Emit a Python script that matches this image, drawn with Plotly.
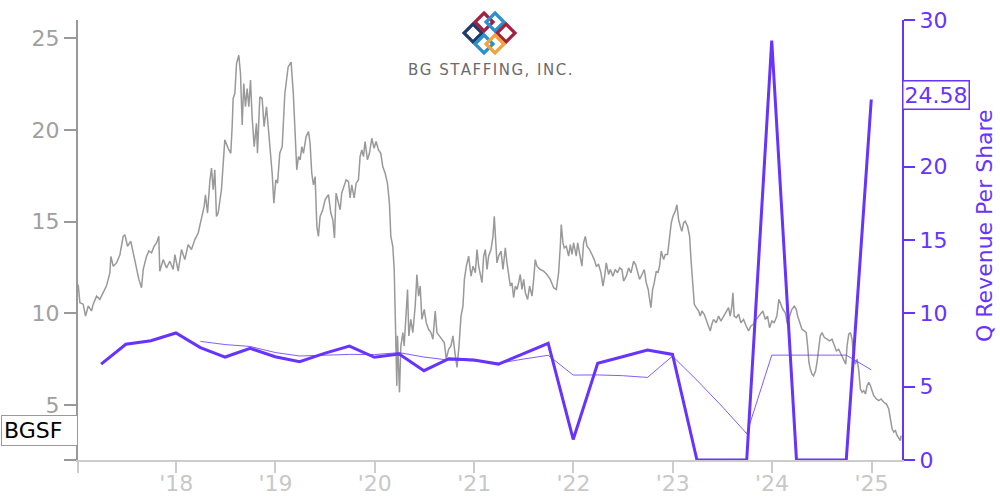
import plotly.graph_objects as go
import pandas as pd

# ---------------- data ----------------
ticker = "BGSF"
company = "BG STAFFING, INC."
right_title = "Q Revenue Per Share"

# daily close (decimal year, price)
price_points = [
    (2017.013, 11.57), (2017.030, 10.58), (2017.063, 10.5), (2017.087, 9.85), (2017.114, 10.4),
    (2017.147, 10.13), (2017.164, 10.5), (2017.198, 10.94), (2017.231, 10.76), (2017.265, 11.1),
    (2017.298, 11.5), (2017.332, 12.2), (2017.342, 13.1), (2017.366, 12.57), (2017.399, 12.75),
    (2017.433, 13.2), (2017.466, 14.2), (2017.483, 14.29), (2017.510, 13.66), (2017.543, 13.93),
    (2017.567, 13.3), (2017.600, 12.57), (2017.624, 11.85), (2017.651, 11.4), (2017.668, 12.4),
    (2017.701, 13.1), (2017.725, 13.4), (2017.752, 13.3), (2017.778, 13.66), (2017.802, 13.84),
    (2017.825, 14.2), (2017.835, 12.3), (2017.869, 12.93), (2017.903, 12.48), (2017.936, 12.84),
    (2017.970, 12.39), (2017.987, 13.2), (2018.020, 12.3), (2018.054, 13.48), (2018.087, 12.93),
    (2018.121, 13.75), (2018.154, 13.48), (2018.188, 14.02), (2018.222, 14.38), (2018.255, 15.29),
    (2018.282, 15.83), (2018.295, 16.47), (2018.316, 15.47), (2018.339, 17.19), (2018.356, 17.92),
    (2018.373, 16.74), (2018.389, 17.83), (2018.406, 15.29), (2018.423, 15.47), (2018.456, 16.74),
    (2018.490, 19.46), (2018.524, 19.0), (2018.550, 18.73), (2018.564, 20.18), (2018.574, 21.72),
    (2018.591, 21.99), (2018.608, 23.62), (2018.631, 24.08), (2018.648, 23.08), (2018.665, 20.27),
    (2018.681, 22.54), (2018.698, 21.27), (2018.715, 22.26), (2018.732, 21.27), (2018.749, 22.72),
    (2018.765, 20.72), (2018.786, 19.09), (2018.809, 20.36), (2018.819, 18.73), (2018.843, 21.81),
    (2018.866, 21.72), (2018.886, 20.18), (2018.910, 21.27), (2018.933, 19.82), (2018.953, 18.73),
    (2018.967, 17.64), (2018.984, 16.01), (2019.004, 17.28), (2019.021, 17.1), (2019.044, 18.73),
    (2019.068, 19.09), (2019.095, 21.99), (2019.128, 23.44), (2019.158, 23.7), (2019.180, 22.0),
    (2019.200, 20.0), (2019.215, 17.83), (2019.232, 18.55), (2019.249, 18.37), (2019.266, 19.09),
    (2019.282, 18.73), (2019.309, 19.64), (2019.333, 19.91), (2019.349, 19.28), (2019.366, 17.64),
    (2019.383, 17.01), (2019.400, 17.46), (2019.417, 14.75), (2019.433, 14.2), (2019.450, 15.29),
    (2019.477, 15.65), (2019.501, 16.2), (2019.534, 16.47), (2019.558, 15.47), (2019.578, 15.11),
    (2019.595, 14.11), (2019.611, 16.56), (2019.635, 16.01), (2019.652, 15.65), (2019.668, 16.56),
    (2019.692, 16.92), (2019.712, 17.28), (2019.736, 17.19), (2019.752, 16.29), (2019.769, 17.01),
    (2019.793, 16.29), (2019.813, 17.1), (2019.836, 17.28), (2019.853, 18.55), (2019.870, 18.91),
    (2019.887, 18.55), (2019.903, 19.37), (2019.927, 18.37), (2019.947, 18.73), (2019.971, 19.55),
    (2019.994, 19.0), (2020.014, 19.37), (2020.038, 18.91), (2020.061, 18.73), (2020.081, 18.01),
    (2020.105, 17.64), (2020.128, 17.1), (2020.148, 16.01), (2020.162, 14.2), (2020.182, 13.66),
    (2020.196, 12.39), (2020.209, 9.31), (2020.216, 7.5), (2020.222, 6.05), (2020.229, 8.77),
    (2020.239, 6.41), (2020.249, 5.69), (2020.263, 8.22), (2020.283, 8.95), (2020.296, 8.22),
    (2020.316, 10.04), (2020.330, 11.3), (2020.343, 8.77), (2020.363, 9.67), (2020.383, 8.95),
    (2020.407, 10.4), (2020.424, 12.12), (2020.441, 10.94), (2020.457, 11.49), (2020.474, 9.67),
    (2020.498, 10.22), (2020.518, 9.49), (2020.541, 9.13), (2020.565, 8.95), (2020.585, 8.59),
    (2020.608, 10.13), (2020.625, 8.95), (2020.652, 8.77), (2020.675, 8.59), (2020.699, 8.41),
    (2020.719, 7.5), (2020.743, 8.04), (2020.766, 8.22), (2020.786, 8.77), (2020.806, 7.86),
    (2020.827, 7.05), (2020.847, 8.22), (2020.867, 9.85), (2020.887, 10.4), (2020.901, 11.85),
    (2020.921, 12.57), (2020.944, 13.12), (2020.968, 12.03), (2020.988, 12.57), (2021.011, 12.21),
    (2021.028, 13.48), (2021.045, 12.57), (2021.061, 12.03), (2021.078, 11.67), (2021.095, 13.12),
    (2021.112, 13.48), (2021.129, 12.39), (2021.145, 13.12), (2021.169, 13.48), (2021.189, 14.2),
    (2021.202, 15.29), (2021.216, 13.66), (2021.229, 12.75), (2021.246, 13.12), (2021.270, 13.39),
    (2021.290, 12.39), (2021.313, 13.57), (2021.330, 12.75), (2021.347, 12.21), (2021.364, 11.49),
    (2021.380, 11.67), (2021.397, 10.85), (2021.414, 11.49), (2021.431, 11.3), (2021.447, 11.67),
    (2021.464, 12.12), (2021.481, 11.3), (2021.498, 11.85), (2021.515, 11.12), (2021.538, 10.76),
    (2021.558, 11.49), (2021.582, 10.94), (2021.599, 11.85), (2021.615, 12.93), (2021.632, 12.57),
    (2021.666, 12.39), (2021.699, 12.3), (2021.733, 12.12), (2021.766, 11.85), (2021.800, 11.4),
    (2021.827, 11.3), (2021.850, 12.21), (2021.867, 13.66), (2021.877, 14.84), (2021.894, 13.84),
    (2021.907, 13.57), (2021.928, 13.66), (2021.951, 13.12), (2021.968, 13.75), (2021.985, 13.21),
    (2022.001, 13.84), (2022.028, 13.12), (2022.042, 13.84), (2022.062, 13.3), (2022.085, 12.57),
    (2022.102, 13.84), (2022.119, 14.2), (2022.136, 13.66), (2022.162, 13.48), (2022.186, 13.21),
    (2022.209, 12.93), (2022.230, 12.57), (2022.253, 12.66), (2022.277, 12.21), (2022.297, 11.49),
    (2022.314, 12.03), (2022.330, 12.75), (2022.354, 12.12), (2022.371, 12.39), (2022.397, 12.03),
    (2022.421, 12.39), (2022.444, 12.21), (2022.465, 12.48), (2022.488, 12.39), (2022.505, 11.76),
    (2022.532, 12.03), (2022.555, 12.48), (2022.579, 12.21), (2022.606, 12.84), (2022.626, 12.66),
    (2022.646, 12.21), (2022.666, 11.85), (2022.690, 12.12), (2022.713, 12.39), (2022.733, 11.67),
    (2022.753, 11.3), (2022.767, 10.76), (2022.780, 10.31), (2022.797, 11.3), (2022.814, 11.67),
    (2022.834, 12.3), (2022.851, 12.21), (2022.867, 12.57), (2022.884, 13.39), (2022.908, 12.93),
    (2022.925, 13.21), (2022.948, 13.21), (2022.968, 14.02), (2022.985, 14.93), (2023.002, 15.29),
    (2023.025, 15.56), (2023.042, 15.92), (2023.059, 15.11), (2023.076, 14.75), (2023.092, 14.47),
    (2023.109, 14.93), (2023.126, 15.02), (2023.149, 14.75), (2023.170, 14.2), (2023.183, 13.0),
    (2023.196, 11.8), (2023.203, 11.49), (2023.217, 10.49), (2023.237, 10.31), (2023.260, 10.13),
    (2023.277, 9.85), (2023.294, 10.13), (2023.317, 9.95), (2023.337, 9.67), (2023.361, 9.31),
    (2023.378, 9.04), (2023.394, 9.4), (2023.411, 9.67), (2023.438, 9.49), (2023.462, 9.85),
    (2023.485, 9.58), (2023.512, 9.85), (2023.539, 10.13), (2023.562, 10.31), (2023.579, 9.85),
    (2023.596, 10.4), (2023.606, 11.12), (2023.619, 9.85), (2023.640, 9.76), (2023.663, 9.95),
    (2023.687, 9.49), (2023.713, 9.67), (2023.740, 9.31), (2023.764, 9.04), (2023.787, 9.31),
    (2023.814, 9.4), (2023.841, 9.67), (2023.864, 9.85), (2023.888, 10.04), (2023.908, 10.13),
    (2023.932, 9.67), (2023.955, 9.85), (2023.975, 9.22), (2023.999, 9.58), (2024.022, 9.49),
    (2024.049, 9.85), (2024.069, 10.76), (2024.089, 10.49), (2024.109, 10.22), (2024.133, 10.04),
    (2024.156, 9.4), (2024.177, 9.85), (2024.200, 10.22), (2024.224, 10.4), (2024.244, 10.22),
    (2024.257, 9.85), (2024.277, 9.49), (2024.301, 9.13), (2024.324, 9.04), (2024.344, 8.95),
    (2024.358, 8.22), (2024.371, 7.32), (2024.385, 6.96), (2024.402, 6.68), (2024.418, 6.59),
    (2024.438, 6.87), (2024.452, 7.32), (2024.469, 8.22), (2024.485, 8.77), (2024.502, 8.95),
    (2024.526, 8.68), (2024.553, 8.59), (2024.579, 8.5), (2024.603, 8.59), (2024.626, 8.22),
    (2024.647, 7.95), (2024.670, 8.04), (2024.694, 7.77), (2024.720, 7.41), (2024.741, 7.23),
    (2024.754, 8.22), (2024.771, 8.86), (2024.788, 8.95), (2024.804, 8.59), (2024.821, 7.5),
    (2024.838, 7.23), (2024.855, 7.5), (2024.872, 6.87), (2024.888, 5.87), (2024.905, 5.69),
    (2024.922, 5.78), (2024.939, 5.6), (2024.955, 6.05), (2024.972, 6.23), (2024.989, 6.05),
    (2025.006, 5.69), (2025.022, 5.51), (2025.049, 5.33), (2025.073, 5.24), (2025.096, 5.33),
    (2025.123, 5.15), (2025.150, 5.05), (2025.174, 4.78), (2025.190, 4.24), (2025.207, 3.7),
    (2025.224, 3.52), (2025.241, 3.6), (2025.258, 3.33), (2025.275, 3.15), (2025.291, 3.06),
    (2025.298, 3.33),
]

quarter_dates = [
    "2017-03-31", "2017-06-30", "2017-09-30", "2017-12-31",
    "2018-03-31", "2018-06-30", "2018-09-30", "2018-12-31",
    "2019-03-31", "2019-06-30", "2019-09-30", "2019-12-31",
    "2020-03-31", "2020-06-30", "2020-09-30", "2020-12-31",
    "2021-03-31", "2021-06-30", "2021-09-30", "2021-12-31",
    "2022-03-31", "2022-06-30", "2022-09-30", "2022-12-31",
    "2023-03-31", "2023-06-30", "2023-09-30", "2023-12-31",
    "2024-03-31", "2024-06-30", "2024-09-30", "2024-12-31",
]
rev_per_share = [
    6.54, 7.89, 8.13, 8.66,
    7.66, 7.02, 7.61, 7.04,
    6.70, 7.27, 7.77, 7.00,
    7.23, 6.09, 6.91, 6.82,
    6.54, 7.25, 7.95, 1.40,
    6.59, 7.04, 7.50, 7.20,
    0.0, 0.0, 0.0, 28.6,
    0.0, 0.0, 0.0, 24.58,
]
# thin line (4-quarter average), starts Q1 2018
avg_dates = quarter_dates[4:]
rev_avg = [
    8.09, 7.87, 7.74, 7.33,
    7.09, 7.16, 7.20, 7.19,
    7.32, 7.02, 6.81, 6.76,
    6.59, 6.88, 7.14, 5.79,
    5.80, 5.75, 5.63, 7.08,
    5.44, 3.68, 1.80, 7.15,
    7.15, 7.15, 7.15, 6.15,
]
last_rev_label = "24.58"
last_rev_value = 24.58
ticker_label_value = 3.6

x_tick_vals = ["2017-01-05", "2018-01-01", "2019-01-01", "2020-01-01", "2021-01-01",
               "2022-01-01", "2023-01-01", "2024-01-01", "2025-01-01"]
x_tick_text = ["", "'18", "'19", "'20", "'21", "'22", "'23", "'24", "'25"]
x_range = ["2017-01-05", "2025-04-23"]
left_tick_vals = [2.0, 5, 10, 15, 20, 25]
left_tick_text = ["", "5", "10", "15", "20", "25"]
left_range = [2.0, 26.0]
right_tick_vals = [0, 5, 10, 15, 20, 25, 30]
right_range = [0, 30]

# ---------------- helpers ----------------
def year_frac_to_date(t):
    y = int(t)
    start = pd.Timestamp(year=y, month=1, day=1)
    end = pd.Timestamp(year=y + 1, month=1, day=1)
    return start + (end - start) * (t - y)

price_x = [year_frac_to_date(t) for t, _ in price_points]
price_y = [v for _, v in price_points]

PURPLE = "#6633ff"
GRAY = "#999999"
LIGHT = "#cccccc"
FONT = "DejaVu Sans"

fig = go.Figure()
fig.add_trace(go.Scatter(x=price_x, y=price_y, mode="lines",
                         line=dict(color=GRAY, width=1.5), yaxis="y",
                         showlegend=False, hoverinfo="skip"))
fig.add_trace(go.Scatter(x=avg_dates, y=rev_avg, mode="lines",
                         line=dict(color=PURPLE, width=1), opacity=0.8,
                         yaxis="y2", showlegend=False))
fig.add_trace(go.Scatter(x=quarter_dates, y=rev_per_share, mode="lines",
                         line=dict(color=PURPLE, width=3), yaxis="y2",
                         showlegend=False))

W, H = 1000, 500
L, R, T, B = 78, 98, 20, 40
pw, ph = W - L - R, H - T - B

def px(xp, yp):
    return (xp - L) / pw, (H - B - yp) / ph

def diamond(cx, cy, h, color):
    pts = [px(cx, cy - h), px(cx + h, cy), px(cx, cy + h), px(cx - h, cy)]
    path = "M " + " L ".join(f"{a:.5f},{b:.5f}" for a, b in pts) + " Z"
    return dict(type="path", xref="paper", yref="paper", path=path,
                line=dict(color=color, width=3.2), fillcolor="rgba(0,0,0,0)", layer="above")

logo_parts = [
    (473, 33, "#1f3a6b"), (484, 22, "#a3213f"), (495, 22, "#2b8fd0"),
    (506, 33, "#a3213f"), (484, 44, "#2b8fd0"), (495, 44, "#f2a33a"),
]
shapes = [diamond(cx, cy, 9, c) for cx, cy, c in logo_parts]

lx, ly = px(490, 70)
tx, ty = px(985, 226)
hair = "\u200a"
company_spaced = hair.join(list(company))

fig.update_layout(
    width=W, height=H,
    margin=dict(l=L, r=R, t=T, b=B, autoexpand=False),
    paper_bgcolor="white", plot_bgcolor="white",
    font=dict(family=FONT, size=22),
    xaxis=dict(type="date", range=x_range, tickvals=x_tick_vals, ticktext=x_tick_text,
               ticks="outside", ticklen=11, tickwidth=2, tickcolor=LIGHT,
               showline=True, linecolor=LIGHT, linewidth=2, automargin=False,
               ticklabeloverflow="allow", ticklabelstandoff=-8,
               tickfont=dict(color="#c8c8c8", size=22), showgrid=False, zeroline=False),
    yaxis=dict(range=left_range, tickvals=left_tick_vals, ticktext=left_tick_text,
               ticks="outside", ticklen=12, tickwidth=2, tickcolor=GRAY,
               showline=True, linecolor=GRAY, linewidth=2, automargin=False,
               ticklabeloverflow="allow",
               tickfont=dict(color="#a0a0a0", size=22), showgrid=False, zeroline=False),
    yaxis2=dict(range=right_range, tickvals=right_tick_vals, overlaying="y", side="right",
                ticks="outside", ticklen=11, tickwidth=2, tickcolor=PURPLE,
                showline=True, linecolor=PURPLE, linewidth=2, automargin=False,
                ticklabeloverflow="allow",
                tickfont=dict(color=PURPLE, size=22), showgrid=False, zeroline=False),
    shapes=shapes,
    annotations=[
        dict(text=company_spaced, xref="paper", yref="paper", x=lx, y=ly, showarrow=False,
             font=dict(family=FONT, size=15, color="#6b6b6b"), xanchor="center", yanchor="middle"),
        dict(text=ticker, xref="paper", yref="y", x=0, y=ticker_label_value, showarrow=False,
             xanchor="right", yanchor="middle", width=71, align="left",
             bgcolor="white", bordercolor=GRAY, borderwidth=1, borderpad=2,
             font=dict(family=FONT, size=22, color="black")),
        dict(text=last_rev_label, xref="paper", yref="y2", x=1, y=last_rev_value, yshift=4,
             showarrow=False, xanchor="left", yanchor="middle",
             bgcolor="white", bordercolor=PURPLE, borderwidth=1.5, borderpad=1,
             font=dict(family=FONT, size=22, color=PURPLE)),
        dict(text=right_title, xref="paper", yref="paper", x=tx, y=ty, showarrow=False,
             textangle=-90, xanchor="center", yanchor="middle",
             font=dict(family=FONT, size=22, color=PURPLE)),
    ],
)

# remove the default 8px page margin so the figure sits at the window's top-left
fig.write_html("out.html",
               config={"displayModeBar": False},
               post_script="document.body.style.margin='0';document.body.style.overflow='hidden';")
